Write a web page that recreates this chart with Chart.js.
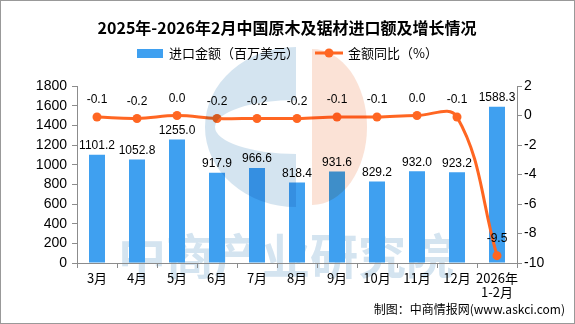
<!DOCTYPE html>
<html>
<head>
<meta charset="utf-8">
<script src="https://cdn.jsdelivr.net/npm/chart.js@4.4.1/dist/chart.umd.min.js"></script>
<style>
  html, body { margin: 0; padding: 0; background: #fff; }
  #wrap { width: 575px; height: 324px; position: relative; }
</style>
</head>
<body>
<div id="wrap"><canvas id="chart"></canvas></div>
<script>
// monthly import value (million USD) and year-on-year change (%)
const months = ['3月', '4月', '5月', '6月', '7月', '8月', '9月', '10月', '11月', '12月', ['2026年', '1-2月']];
const importValue = [1101.2, 1052.8, 1255.0, 917.9, 966.6, 818.4, 931.6, 829.2, 932.0, 923.2, 1588.3];
const yoyChange = [-0.1, -0.2, 0.0, -0.2, -0.2, -0.2, -0.1, -0.1, 0.0, -0.1, -9.5];
const valueTicks = [0, 200, 400, 600, 800, 1000, 1200, 1400, 1600, 1800];
const changeTicks = [-10, -8, -6, -4, -2, 0, 2];

const BAR = '#3FA0F0';
const LINE = '#FF6622';
const AXIS = '#8c8c8c';
const CJK = "'Noto Sans CJK SC', sans-serif";
const NUM = "'Liberation Sans', 'Noto Sans CJK SC', sans-serif";

const setTicks = (list) => (scale) => { scale.ticks = list.map(v => ({ value: v })); };

// white background, frame, title, legend, source line, brand text behind the plot
const frame = {
  id: 'frame',
  beforeDraw(chart) {
    const ctx = chart.ctx;
    ctx.save();
    ctx.fillStyle = '#fff';
    ctx.fillRect(0, 0, chart.width, chart.height);
    ctx.fillStyle = 'rgb(212,228,240)';
    ctx.font = `bold 48px ${CJK}`;
    ctx.textAlign = 'center';
    ctx.textBaseline = 'middle';
    ctx.fillText('中商产业研究院', 286, 256);
    ctx.restore();
  },
  afterDraw(chart) {
    const ctx = chart.ctx;
    ctx.save();
    ctx.strokeStyle = '#999';
    ctx.lineWidth = 1;
    ctx.strokeRect(0.5, 0.5, chart.width - 1, chart.height - 1);

    ctx.fillStyle = '#000';
    ctx.textBaseline = 'middle';
    ctx.textAlign = 'center';
    ctx.font = `bold 16px ${CJK}`;
    ctx.fillText('2025年-2026年2月中国原木及锯材进口额及增长情况', 287, 28);

    ctx.textAlign = 'left';
    ctx.font = `13px ${CJK}`;
    ctx.fillStyle = BAR;
    ctx.fillRect(137, 49, 26, 9);
    ctx.fillStyle = '#000';
    ctx.fillText(chart.data.datasets[0].label, 169, 53);

    ctx.strokeStyle = LINE;
    ctx.lineWidth = 3;
    ctx.beginPath();
    ctx.moveTo(315, 53);
    ctx.lineTo(343, 53);
    ctx.stroke();
    ctx.fillStyle = LINE;
    ctx.beginPath();
    ctx.arc(329, 53, 4.5, 0, Math.PI * 2);
    ctx.fill();
    ctx.fillStyle = '#000';
    ctx.fillText(chart.data.datasets[1].label, 348, 53);

    ctx.textAlign = 'right';
    ctx.font = `12px ${CJK}`;
    ctx.fillText('制图：中商情报网(www.askci.com)', 565, 309);
    ctx.restore();
  }
};

// value labels over bars and points, then the tinted logo on top
const labels = {
  id: 'labels',
  afterDatasetsDraw(chart) {
    const ctx = chart.ctx;
    ctx.save();
    ctx.fillStyle = '#000';
    ctx.font = `12px ${NUM}`;
    ctx.textAlign = 'center';
    ctx.textBaseline = 'middle';
    chart.getDatasetMeta(0).data.forEach((bar, i) => {
      ctx.fillText(importValue[i].toFixed(1), bar.x, bar.y - 9);
    });
    chart.getDatasetMeta(1).data.forEach((pt, i) => {
      ctx.fillText(yoyChange[i].toFixed(1), pt.x, pt.y - 17);
    });

    ctx.globalCompositeOperation = 'multiply';
    ctx.fillStyle = 'rgb(212,228,240)';
    ctx.beginPath();
    ctx.ellipse(296, 127, 91, 80, 0, Math.PI / 2, Math.PI * 1.5);
    ctx.closePath();
    ctx.moveTo(296, 127 + 27);
    ctx.ellipse(296, 127, 81, 27, 0, Math.PI / 2, Math.PI * 1.5);
    ctx.closePath();
    ctx.fill('evenodd');
    ctx.fillStyle = 'rgb(251,226,214)';
    ctx.beginPath();
    ctx.ellipse(312, 127, 55, 78, 0, -Math.PI / 2, Math.PI / 2);
    ctx.closePath();
    ctx.fill();
    ctx.restore();
  }
};

new Chart(document.getElementById('chart'), {
  data: {
    labels: months,
    datasets: [
      {
        type: 'bar',
        label: '进口金额（百万美元）',
        data: importValue,
        backgroundColor: BAR,
        barPercentage: 0.4,
        categoryPercentage: 1,
        yAxisID: 'y',
        order: 1
      },
      {
        type: 'line',
        label: '金额同比（%）',
        data: yoyChange,
        borderColor: LINE,
        backgroundColor: LINE,
        borderWidth: 3,
        pointRadius: 4.5,
        pointBorderWidth: 0,
        tension: 0.4,
        yAxisID: 'y1',
        order: 0
      }
    ]
  },
  options: {
    responsive: true,
    maintainAspectRatio: false,
    animation: false,
    layout: { padding: { top: 86, left: 0, right: 0, bottom: 0 } },
    plugins: {
      legend: { display: false },
      title: { display: false },
      tooltip: { enabled: false }
    },
    scales: {
      x: {
        offset: true,
        grid: { display: true, drawOnChartArea: false, offset: true, tickLength: 5, color: AXIS },
        border: { color: AXIS },
        ticks: {
          color: '#000',
          autoSkip: false,
          maxRotation: 0,
          padding: 3,
          font: { family: CJK, size: 13, lineHeight: 1.1 }
        },
        afterFit(scale) { scale.height = 61; }
      },
      y: {
        position: 'left',
        min: 0,
        max: 1800,
        afterBuildTicks: setTicks(valueTicks),
        grid: { drawOnChartArea: false, tickLength: 5, color: AXIS },
        border: { color: AXIS },
        ticks: {
          color: '#000',
          autoSkip: false,
          padding: 5,
          font: { family: NUM, size: 14 },
          callback: (v) => String(v)
        },
        afterFit(scale) { scale.width = 77; }
      },
      y1: {
        position: 'right',
        min: -10,
        max: 2,
        afterBuildTicks: setTicks(changeTicks),
        grid: { drawOnChartArea: false, tickLength: 5, color: AXIS },
        border: { color: AXIS },
        ticks: {
          color: '#000',
          autoSkip: false,
          padding: 2,
          font: { family: NUM, size: 14 },
          callback: (v) => String(v)
        },
        afterFit(scale) { scale.width = 58; }
      }
    }
  },
  plugins: [frame, labels]
});
</script>
</body>
</html>
